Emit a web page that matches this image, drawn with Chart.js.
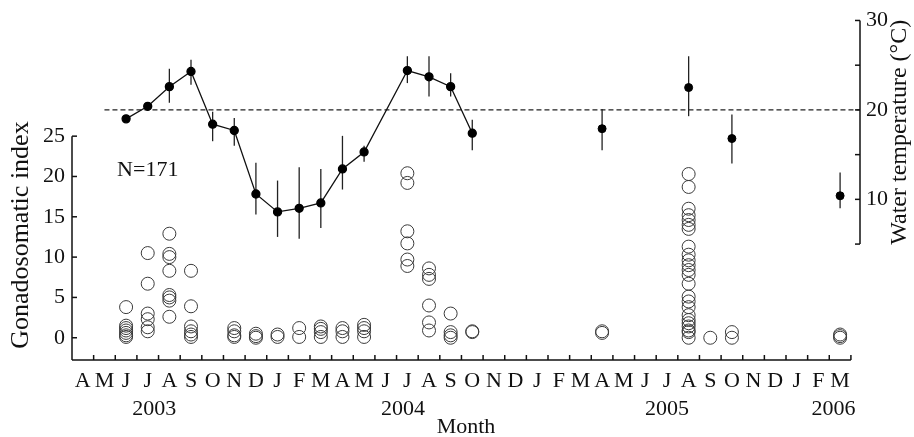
<!DOCTYPE html>
<html>
<head>
<meta charset="utf-8">
<script src="https://cdn.jsdelivr.net/npm/chart.js@4"></script>
<style>
  html, body { margin: 0; padding: 0; background: #fff; }
  #wrap { width: 914px; height: 437px; }
</style>
</head>
<body>
<div id="wrap"><canvas id="chart"></canvas></div>
<script>
// x positions are month numbers counted from April 2003 (= 0)
const monthLabels = ['A','M','J','J','A','S','O','N','D','J','F','M',
                     'A','M','J','J','A','S','O','N','D','J','F','M',
                     'A','M','J','J','A','S','O','N','D','J','F','M'];
const yearLabels = ['2003', '2004', '2005', '2006'];
const yearPositions = [3.3, 14.8, 27, 34.7];
const gsiTicks = [0, 5, 10, 15, 20, 25];
const tempTicks = [5, 10, 15, 20, 25, 30];
const tempLabelled = [10, 20, 30];

// water temperature: mean and range
const tempLineMonths = [2, 3, 4, 5, 6, 7, 8, 9, 10, 11, 12, 13, 15, 16, 17, 18];
const tempLineValues = [19.0, 20.4, 22.6, 24.3, 18.4, 17.7, 10.6, 8.6, 9.0, 9.6, 13.4, 15.3, 24.4, 23.7, 22.6, 17.4];
const tempLineHigh   = [19.0, 20.4, 24.6, 25.6, 19.8, 19.1, 14.1, 12.1, 13.6, 13.4, 17.1, 16.0, 26.0, 26.0, 24.1, 18.9];
const tempLineLow    = [19.0, 20.4, 20.8, 22.8, 16.5, 16.0, 8.3, 5.8, 5.6, 6.8, 11.1, 14.2, 23.0, 21.5, 21.5, 15.5];
const tempSoloMonths = [24, 28, 30, 35];
const tempSoloValues = [17.9, 22.5, 16.8, 10.4];
const tempSoloHigh   = [20.1, 26.0, 19.5, 13.0];
const tempSoloLow    = [15.5, 19.3, 14.0, 9.0];
const tempThreshold = 20;

// gonadosomatic index of individual fish
const gsiMonths = [2, 3, 4, 5, 7, 8, 9, 10, 11, 12, 13, 15, 16, 17, 18, 24, 28, 29, 30, 35];
const gsiSamples = [
  [3.8, 1.5, 1.2, 0.9, 0.6, 0.3, 0.1],
  [10.5, 6.7, 3.0, 2.3, 1.3, 0.8],
  [12.9, 10.4, 10.0, 8.3, 5.3, 5.0, 4.6, 2.6],
  [8.3, 3.9, 1.4, 0.8, 0.4, 0.1],
  [1.2, 0.8, 0.3, 0.1],
  [0.5, 0.2, 0.0],
  [0.4, 0.1],
  [1.2, 0.1],
  [1.4, 1.1, 0.7, 0.1],
  [1.2, 0.8, 0.1],
  [1.6, 1.2, 0.8, 0.1],
  [20.4, 19.2, 13.2, 11.7, 9.7, 8.9],
  [8.6, 7.8, 7.3, 4.0, 1.9, 0.9],
  [3.0, 0.7, 0.3, 0.0],
  [0.8, 0.7],
  [0.8, 0.6],
  [20.3, 18.7, 16.0, 15.2, 14.6, 14.0, 13.5, 11.3, 10.3, 9.6, 9.0, 8.4, 7.8, 6.7, 5.1, 4.5, 3.8, 2.8, 2.2, 1.8, 1.4, 0.9, 0.7, 0.0],
  [0.0],
  [0.7, 0.0],
  [0.4, 0.2, 0.0]
];
const sampleNote = 'N=171';

const xMin = -0.5, xEnd = 35.5, xMax = 35.92;

const gsiPoints = [];
gsiMonths.forEach((m, i) => gsiSamples[i].forEach(v => gsiPoints.push({x: m, y: v})));
const toXY = (ms, vs) => ms.map((m, i) => ({x: m, y: vs[i]}));

const ink = '#111';
const serif = "'Liberation Serif', 'Times New Roman', serif";
Chart.defaults.font.family = serif;
Chart.defaults.font.size = 22;
Chart.defaults.color = ink;

const decor = {
  id: 'decor',
  beforeDatasetsDraw(chart) {
    const {ctx} = chart;
    const yT = chart.scales.yT;
    ctx.save();
    ctx.strokeStyle = '#222';
    ctx.lineWidth = 1.3;
    chart.data.datasets.forEach((ds, di) => {
      if (!ds.high) return;
      chart.getDatasetMeta(di).data.forEach((pt, i) => {
        ctx.beginPath();
        ctx.moveTo(pt.x, yT.getPixelForValue(ds.high[i]));
        ctx.lineTo(pt.x, yT.getPixelForValue(ds.low[i]));
        ctx.stroke();
      });
    });
    ctx.restore();
  },
  afterDraw(chart) {
    const {ctx, chartArea: a} = chart;
    const {x, y, yT} = chart.scales;
    const seg = (x1, y1, x2, y2) => { ctx.beginPath(); ctx.moveTo(x1, y1); ctx.lineTo(x2, y2); ctx.stroke(); };
    ctx.save();
    ctx.strokeStyle = ink;
    ctx.lineWidth = 1.5;
    // left axis
    const gTop = y.getPixelForValue(gsiTicks[gsiTicks.length - 1]);
    seg(a.left, gTop, a.left, a.bottom);
    gsiTicks.forEach(v => { const p = y.getPixelForValue(v); seg(a.left, p, a.left + 5, p); });
    // right axis
    const tTop = yT.getPixelForValue(tempTicks[tempTicks.length - 1]);
    const tBot = yT.getPixelForValue(tempTicks[0]);
    seg(a.right, tTop, a.right, tBot);
    tempTicks.forEach(v => { const p = yT.getPixelForValue(v); seg(a.right - 5, p, a.right, p); });
    // bottom axis, ticks on month boundaries
    seg(a.left, a.bottom, x.getPixelForValue(xEnd), a.bottom);
    monthLabels.forEach((_, i) => { const p = x.getPixelForValue(i + 0.5); seg(p, a.bottom, p, a.bottom - 5); });
    // axis titles
    ctx.fillStyle = ink;
    ctx.textAlign = 'center';
    ctx.textBaseline = 'middle';
    const vText = (t, px, py) => { ctx.save(); ctx.translate(px, py); ctx.rotate(-Math.PI / 2); ctx.fillText(t, 0, 0); ctx.restore(); };
    ctx.font = '26px ' + serif;
    vText('Gonadosomatic index', 21, (gTop + a.bottom) / 2 - 13);
    ctx.font = '24px ' + serif;
    vText('Water temperature (\u00B0C)', 900, (tTop + tBot) / 2);
    ctx.font = '22px ' + serif;
    ctx.fillText(sampleNote, x.getPixelForValue(3), y.getPixelForValue(20.8));
    ctx.restore();
  }
};

new Chart(document.getElementById('chart'), {
  type: 'scatter',
  data: {
    datasets: [
      {
        label: 'GSI',
        data: gsiPoints,
        yAxisID: 'y',
        pointRadius: 6.5,
        pointBorderWidth: 1,
        pointBorderColor: '#3a3a3a',
        pointBackgroundColor: 'rgba(0,0,0,0)',
        order: 3
      },
      {
        label: '20 C',
        type: 'line',
        data: [{x: 1, y: tempThreshold}, {x: xMax, y: tempThreshold}],
        yAxisID: 'yT',
        borderColor: '#222',
        borderWidth: 1.2,
        borderDash: [5, 3],
        pointRadius: 0,
        order: 2
      },
      {
        label: 'Temperature',
        type: 'line',
        data: toXY(tempLineMonths, tempLineValues),
        high: tempLineHigh,
        low: tempLineLow,
        yAxisID: 'yT',
        borderColor: ink,
        borderWidth: 1.3,
        pointRadius: 4,
        pointBackgroundColor: '#000',
        pointBorderColor: '#000',
        order: 1
      },
      {
        label: 'Temperature (single)',
        data: toXY(tempSoloMonths, tempSoloValues),
        high: tempSoloHigh,
        low: tempSoloLow,
        yAxisID: 'yT',
        pointRadius: 4,
        pointBackgroundColor: '#000',
        pointBorderColor: '#000',
        order: 1
      }
    ]
  },
  options: {
    responsive: true,
    maintainAspectRatio: false,
    animation: false,
    layout: { padding: { top: 20, left: 0, right: 0, bottom: 0 } },
    plugins: { legend: { display: false }, tooltip: { enabled: false } },
    scales: {
      x: {
        type: 'linear', position: 'bottom', min: xMin, max: xMax,
        grid: { display: false, drawTicks: false }, border: { display: false },
        afterBuildTicks: s => { s.ticks = monthLabels.map((_, i) => ({value: i})); },
        afterFit: s => { s.height = 36; },
        ticks: { autoSkip: false, maxRotation: 0, padding: 8, callback: v => monthLabels[v] }
      },
      xYear: {
        type: 'linear', position: 'bottom', min: xMin, max: xMax, weight: 1,
        grid: { display: false, drawTicks: false }, border: { display: false },
        afterBuildTicks: s => { s.ticks = yearPositions.map(v => ({value: v})); },
        afterFit: s => { s.height = 41; },
        ticks: { autoSkip: false, maxRotation: 0, padding: 0, callback: (v, i) => yearLabels[i] },
        title: { display: true, text: 'Month', padding: 0, font: { size: 22, lineHeight: 0.9 } }
      },
      y: {
        type: 'linear', position: 'left', min: -2.76, max: 39.38,
        grid: { display: false, drawTicks: false }, border: { display: false },
        afterBuildTicks: s => { s.ticks = gsiTicks.map(v => ({value: v})); },
        afterFit: s => { s.width = 72; },
        ticks: { padding: 7 }
      },
      yT: {
        type: 'linear', position: 'right', min: -7.96, max: 30.03,
        grid: { display: false, drawTicks: false }, border: { display: false },
        afterBuildTicks: s => { s.ticks = tempTicks.map(v => ({value: v})); },
        afterFit: s => { s.width = 54; },
        ticks: { padding: 6, callback: v => tempLabelled.includes(v) ? String(v) : '' }
      }
    }
  },
  plugins: [decor]
});
</script>
</body>
</html>
